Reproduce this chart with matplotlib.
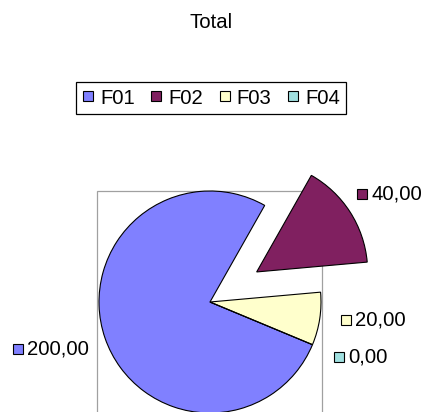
import matplotlib
matplotlib.use("Agg")
import matplotlib.pyplot as plt
from matplotlib.patches import Rectangle
from matplotlib.lines import Line2D

# ---- data ----
categories = ["F01", "F02", "F03", "F04"]
values = [200.0, 40.0, 20.0, 0.0]
colors = ["#8080FF", "#802060", "#FFFFCC", "#A0E0E0"]
explode = [0.0, 0.5, 0.0, 0.0]
title = "Total"

# ---- layout (pixel coordinates, y measured from top) ----
W, H = 426, 412
center_px = (210, 302)
radius_px = 111
label_pos_px = [(18, 349), (362, 194), (346, 320), (339, 357)]  # square centres
font = "Liberation Sans"
fs = 14.6

fig = plt.figure(figsize=(W / 100, H / 100), dpi=100)
ax = fig.add_axes([0, 0, 1, 1])

# plot-area frame
ax.add_patch(Rectangle((97, -10), 225, (H - 191) + 10, facecolor="white",
                       edgecolor="#A0A0A0", linewidth=0.9, zorder=1))

wedges, _ = ax.pie(values, colors=colors,
                   explode=[e * radius_px for e in explode],
                   startangle=-22.6, counterclock=False,
                   center=(center_px[0], H - center_px[1]),
                   radius=radius_px, frame=True,
                   wedgeprops=dict(edgecolor="black", linewidth=0.8))
for w in wedges:
    w.set_zorder(2)
ax.set_xlim(0, W)
ax.set_ylim(0, H)
ax.set_aspect("equal")
ax.axis("off")

# data labels
for v, c, (x, y) in zip(values, colors, label_pos_px):
    ax.plot([x], [H - y], marker="s", markersize=7.8, markerfacecolor=c,
            markeredgecolor="black", markeredgewidth=0.8, linestyle="none",
            zorder=5, clip_on=False)
    ax.text(x + 9, H - y, f"{v:.2f}".replace(".", ","), fontsize=fs,
            family=font, va="center", ha="left", zorder=5)

# title
fig.text(211 / W, 1 - 22 / H, title, fontsize=fs, family=font,
         ha="center", va="center")

# legend
handles = [Line2D([], [], marker="s", markersize=7.2, markerfacecolor=c,
                  markeredgecolor="black", markeredgewidth=0.8, linestyle="none")
           for c in colors]
leg = fig.legend(handles, categories, loc="center", ncol=4,
                 bbox_to_anchor=(211 / W, 1 - 98 / H),
                 prop=dict(family=font, size=fs), frameon=True,
                 fancybox=False, edgecolor="black", framealpha=1,
                 handlelength=0.6, handletextpad=0.3, columnspacing=0.75,
                 borderpad=0.3, borderaxespad=0)
leg.get_frame().set_linewidth(0.9)

fig.savefig("out.png", dpi=100)
